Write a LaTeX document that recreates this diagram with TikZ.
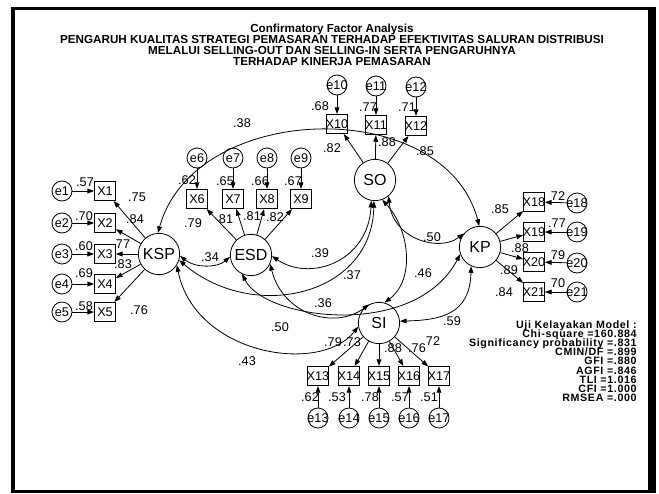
\documentclass[tikz,border=0pt]{standalone}
\usepackage{fontspec}
\setmainfont{Liberation Sans}
\newfontfamily\fitfont[LetterSpace=6]{Liberation Sans}
\usetikzlibrary{calc}
\usetikzlibrary{arrows.meta}

\begin{document}
\begin{tikzpicture}[x=0.75pt,y=-0.75pt,line width=0.6pt,
        lat/.style={draw,circle,fill=white,minimum size=31pt,inner sep=0pt,font=\fontsize{12}{12}\selectfont},
        obs/.style={draw,rectangle,minimum width=15.75pt,minimum height=14.5pt,inner sep=0pt,
            font=\fontsize{9.5}{10}\selectfont,
            execute at begin node={\hbox to 0pt\bgroup\hss},execute at end node={\hss\egroup}},
        err/.style={draw,circle,minimum size=15pt,inner sep=0pt,
            font=\fontsize{9.5}{10}\selectfont,
            execute at begin node={\hbox to 0pt\bgroup\hss},execute at end node={\hss\egroup}},
        lbl/.style={inner sep=0pt,font=\fontsize{9.5}{10}\selectfont},
        ttl/.style={inner sep=0pt,anchor=base,font=\fontsize{8.75}{9}\selectfont\bfseries},
        fit/.style={inner sep=0pt,anchor=base east,font=\fitfont\fontsize{8}{9}\selectfont\bfseries},
        load/.style={-{Triangle[length=5pt,width=3.6pt]}},
        corr/.style={{Triangle[length=5pt,width=3.6pt]}-{Triangle[length=5pt,width=3.6pt]}}]
        \useasboundingbox (0,0) rectangle (659,493);

        % frame
        \fill (11,7) rectangle (656,10);
        \fill (11,7) rectangle (15,493);
        \fill (648,7) rectangle (656,493);
        \fill (11,490) rectangle (656,493);

        % title
        \node[ttl] (T1) at (332,32) {Confirmatory Factor Analysis};
        \node[ttl] (T2) at (332,43) {PENGARUH KUALITAS STRATEGI PEMASARAN TERHADAP EFEKTIVITAS SALURAN DISTRIBUSI};
        \node[ttl] (T3) at (332,54) {MELALUI SELLING-OUT DAN SELLING-IN SERTA PENGARUHNYA};
        \node[ttl] (T4) at (332,65) {TERHADAP KINERJA PEMASARAN};

        % latent variables
        \node[lat] (KSP) at (159,254) {KSP};
        \node[lat] (ESD) at (251,255) {ESD};
        \node[lat] (SO) at (375,180) {SO};
        \node[lat] (KP) at (480,247) {KP};
        \node[lat] (SI) at (379,323) {SI};

        % KSP
        \node[obs] (X1) at (105,191) {X1};
        \node[obs] (X2) at (105,223) {X2};
        \node[obs] (X3) at (105,254) {X3};
        \node[obs] (X4) at (105,284) {X4};
        \node[obs] (X5) at (105,312) {X5};
        \node[err] (e1) at (62,191) {e1};
        \node[err] (e2) at (62,223) {e2};
        \node[err] (e3) at (62,254) {e3};
        \node[err] (e4) at (62,284) {e4};
        \node[err] (e5) at (62,312) {e5};

        % ESD
        \node[obs] (X6) at (197,199) {X6};
        \node[obs] (X7) at (233,199) {X7};
        \node[obs] (X8) at (267,199) {X8};
        \node[obs] (X9) at (301,199) {X9};
        \node[err] (e6) at (197,158) {e6};
        \node[err] (e7) at (233,158) {e7};
        \node[err] (e8) at (267,158) {e8};
        \node[err] (e9) at (301,158) {e9};

        % SO
        \node[obs] (X10) at (337,124) {X10};
        \node[obs] (X11) at (376,125) {X11};
        \node[obs] (X12) at (416,126) {X12};
        \node[err] (e10) at (337,85) {e10};
        \node[err] (e11) at (376,86) {e11};
        \node[err] (e12) at (416,87) {e12};

        % SI
        \node[obs] (X13) at (318,376) {X13};
        \node[obs] (X14) at (349,376) {X14};
        \node[obs] (X15) at (379,376) {X15};
        \node[obs] (X16) at (409,376) {X16};
        \node[obs] (X17) at (439,376) {X17};
        \node[err] (e13) at (318,418) {e13};
        \node[err] (e14) at (349,418) {e14};
        \node[err] (e15) at (379,418) {e15};
        \node[err] (e16) at (409,418) {e16};
        \node[err] (e17) at (439,418) {e17};

        % KP
        \node[obs] (X18) at (534,202) {X18};
        \node[obs] (X19) at (534,232) {X19};
        \node[obs] (X20) at (534,262) {X20};
        \node[obs] (X21) at (534,292) {X21};
        \node[err] (e18) at (577,203) {e18};
        \node[err] (e19) at (577,232) {e19};
        \node[err] (e20) at (577,263) {e20};
        \node[err] (e21) at (577,292) {e21};

        % loadings
        \draw[load] (KSP) -- (X1);
        \draw[load] (KSP) -- (X2);
        \draw[load] (KSP) -- (X3);
        \draw[load] (KSP) -- (X4);
        \draw[load] (KSP) -- (X5);
        \draw[load] (ESD) -- (X6);
        \draw[load] (ESD) -- (X7);
        \draw[load] (ESD) -- (X8);
        \draw[load] (ESD) -- (X9);
        \draw[load] (SO) -- (X10);
        \draw[load] (SO) -- (X11);
        \draw[load] (SO) -- (X12);
        \draw[load] (SI) -- (X13);
        \draw[load] (SI) -- (X14);
        \draw[load] (SI) -- (X15);
        \draw[load] (SI) -- (X16);
        \draw[load] (SI) -- (X17);
        \draw[load] (KP) -- (X18);
        \draw[load] (KP) -- (X19);
        \draw[load] (KP) -- (X20);
        \draw[load] (KP) -- (X21);

        % errors
        \draw[load] (e1) -- (X1);
        \draw[load] (e2) -- (X2);
        \draw[load] (e3) -- (X3);
        \draw[load] (e4) -- (X4);
        \draw[load] (e5) -- (X5);
        \draw[load] (e6) -- (X6);
        \draw[load] (e7) -- (X7);
        \draw[load] (e8) -- (X8);
        \draw[load] (e9) -- (X9);
        \draw[load] (e10) -- (X10);
        \draw[load] (e11) -- (X11);
        \draw[load] (e12) -- (X12);
        \draw[load] (e13) -- (X13);
        \draw[load] (e14) -- (X14);
        \draw[load] (e15) -- (X15);
        \draw[load] (e16) -- (X16);
        \draw[load] (e17) -- (X17);
        \draw[load] (e18) -- (X18);
        \draw[load] (e19) -- (X19);
        \draw[load] (e20) -- (X20);
        \draw[load] (e21) -- (X21);

        % correlations
        \draw[corr] (KSP.93) .. controls (195,100) and (445,95) .. (KP.92);
        \draw[corr] (KSP.-5) .. controls (195,268) and (217,268) .. (ESD.185);
        \draw[corr] (KSP.-17) .. controls (253,323) and (372,296) .. (SO.-93);
        \draw[corr] (KSP.-32) .. controls (195,355) and (320,375) .. (SI.190);
        \draw[corr] (ESD.-3) .. controls (310,282) and (368,262) .. (SO.-100);
        \draw[corr] (ESD.-25) .. controls (283,315) and (335,330) .. (SI.118);
        \draw[corr] (ESD.-115) .. controls (265,320) and (415,340) .. (KP.200);
        \draw[corr] (SO.-70) .. controls (410,230) and (415,280) .. (SI.75);
        \draw[corr] (SO.-50) .. controls (393,240) and (440,252) .. (KP.140);
        \draw[corr] (SI.5) .. controls (440,320) and (470,315) .. (KP.-115);

        % estimates
        \node[lbl] (l1) at (85,182) {.57};
        \node[lbl] (l2) at (84,216) {.70};
        \node[lbl] (l3) at (84,246) {.60};
        \node[lbl] (l4) at (84,273) {.69};
        \node[lbl] (l5) at (84,306) {.58};
        \node[lbl] (k1) at (137,197) {.75};
        \node[lbl] (k2) at (135,219) {.84};
        \node[lbl] (k3) at (123,244) {77};
        \node[lbl] (k4) at (123,264) {.83};
        \node[lbl] (k5) at (139,310) {.76};
        \node[lbl] (l6) at (187,180) {.62};
        \node[lbl] (l7) at (225,181) {.65};
        \node[lbl] (l8) at (260,181) {.66};
        \node[lbl] (l9) at (293,181) {.67};
        \node[lbl] (k6) at (193,223) {.79};
        \node[lbl] (k7) at (226,219) {81};
        \node[lbl] (k8) at (252,216) {.81};
        \node[lbl] (k9) at (275,217) {.82};
        \node[lbl] (l10) at (320,106) {.68};
        \node[lbl] (l11) at (368,107) {.77};
        \node[lbl] (l12) at (407,107) {.71};
        \node[lbl] (k10) at (332,148) {.82};
        \node[lbl] (k11) at (387,142) {.88};
        \node[lbl] (k12) at (425,151) {.85};
        \node[lbl] (k13) at (333,342) {.79};
        \node[lbl] (k14) at (352,342) {.73};
        \node[lbl] (k15) at (393,348) {.88};
        \node[lbl] (k16) at (417,348) {.76};
        \node[lbl] (k17) at (433,341) {72};
        \node[lbl] (l13) at (310,397) {.62};
        \node[lbl] (l14) at (337,397) {.53};
        \node[lbl] (l15) at (370,397) {.78};
        \node[lbl] (l16) at (400,397) {.57};
        \node[lbl] (l17) at (429,397) {.51};
        \node[lbl] (k18) at (500,209) {.85};
        \node[lbl] (k19) at (520,248) {.88};
        \node[lbl] (k20) at (509,270) {.89};
        \node[lbl] (k21) at (504,292) {.84};
        \node[lbl] (l18) at (558,196) {72};
        \node[lbl] (l19) at (557,223) {.77};
        \node[lbl] (l20) at (558,255) {79};
        \node[lbl] (l21) at (558,283) {70};
        \node[lbl] (r1) at (242,123) {.38};
        \node[lbl] (r2) at (210,257) {.34};
        \node[lbl] (r3) at (320,253) {.39};
        \node[lbl] (r4) at (352,275) {.37};
        \node[lbl] (r5) at (323,303) {.36};
        \node[lbl] (r6) at (423,273) {.46};
        \node[lbl] (r7) at (432,237) {.50};
        \node[lbl] (r8) at (452,321) {.59};
        \node[lbl] (r9) at (280,327) {.50};
        \node[lbl] (r10) at (247,361) {.43};

        % fit indices
        \node[fit] (F1) at (637,328) {Uji Kelayakan Model :};
        \node[fit] (F2) at (637,337.2) {Chi-square =160.884};
        \node[fit] (F3) at (637,346.4) {Significancy probability =.831};
        \node[fit] (F4) at (637,355.6) {CMIN/DF =.899};
        \node[fit] (F5) at (637,364.8) {GFI =.880};
        \node[fit] (F6) at (637,374) {AGFI =.846};
        \node[fit] (F7) at (637,383.2) {TLI =1.016};
        \node[fit] (F8) at (637,392.4) {CFI =1.000};
        \node[fit] (F9) at (637,401.6) {RMSEA =.000};
    \end{tikzpicture}
\end{document}
